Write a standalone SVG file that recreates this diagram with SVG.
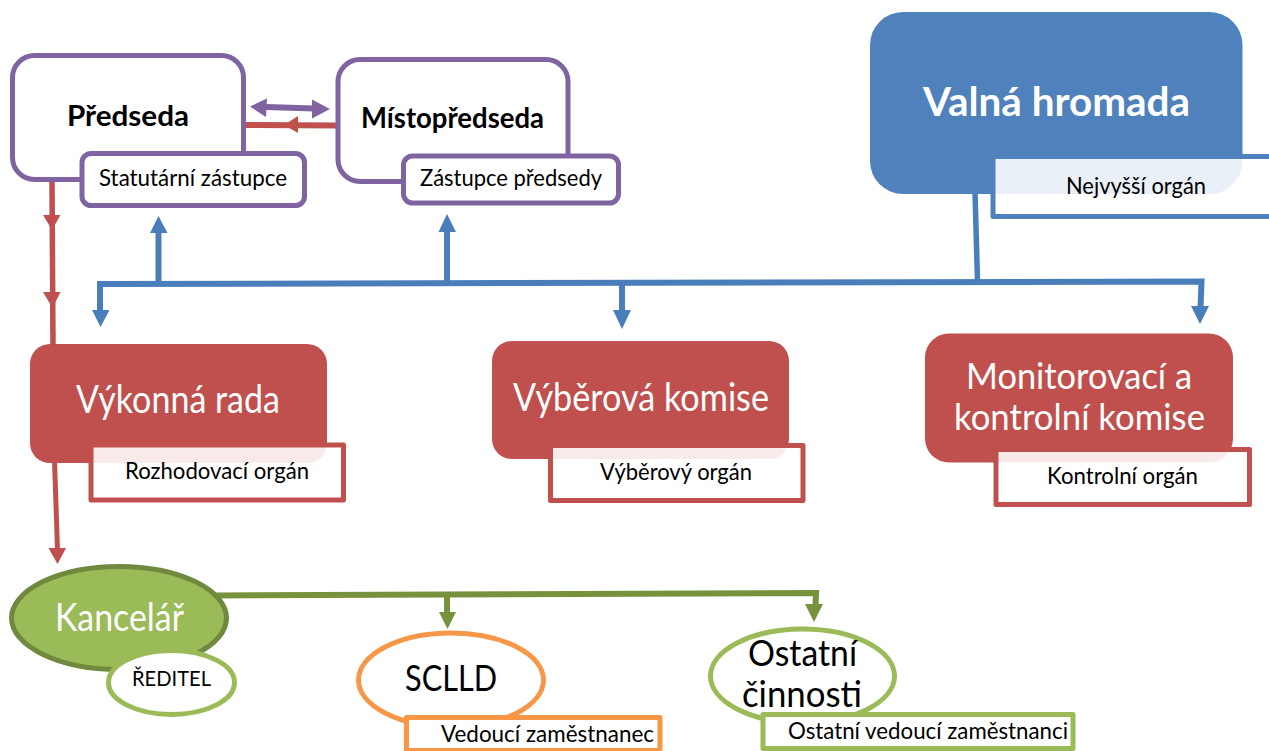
<svg xmlns="http://www.w3.org/2000/svg" width="1269" height="751" viewBox="0 0 1269 751">
<style>
text{font-family:"Lato","Carlito","Liberation Sans",sans-serif;fill:#000;text-anchor:start}
.w{fill:#fff}
.b{font-weight:700}
.pur{fill:#fff;stroke:#8064A2;stroke-width:5}
.redbox{fill:#C0504D}
.redsub{fill:#fff;fill-opacity:.88;stroke:#C0504D;stroke-width:5;stroke-linejoin:round}
.bluesub{fill:#fff;fill-opacity:.88;stroke:#4F81BD;stroke-width:5;stroke-linejoin:round}
.line{fill:none;stroke-linejoin:miter}
.lr{stroke:#C0504D}
.lb{stroke:#4A7EBB}
.lg{stroke:#76923C}
.lp{stroke:#8064A2}
.hr{fill:#C0504D}.hb{fill:#4A7EBB}.hg{fill:#76923C}.hp{fill:#8064A2}
</style>
<rect width="1269" height="751" fill="#fff"/>
<g id="connectors">
<path class="line lp" stroke-width="6" d="M258 106.800L322 108.800"/>
<polygon class="hp" points="250,106.500 267,98.500 266,117"/>
<polygon class="hp" points="330,109 312,99.500 312,118.500"/>
<path class="line lr" stroke-width="6" d="M245 125L337 125.500"/>
<polygon class="hr" points="284,125 298,116 298,133"/>
<path class="line lr" stroke-width="5.500" d="M52 180L53 346"/>
<polygon class="hr" points="43,215 60.500,215 52,230"/>
<polygon class="hr" points="43,292 60.500,292 52.500,308"/>
<path class="line lr" stroke-width="5" d="M54.500 460L57.500 550"/>
<polygon class="hr" points="48.500,548 66,548 57.500,564"/>
<path class="line lb" stroke-width="6" d="M100 312L100 284L1201.500 281.500L1200.500 308"/>
<path class="line lb" stroke-width="5.500" d="M975 192L977.500 281"/>
<path class="line lb" stroke-width="6" d="M158.500 284L158.500 230"/>
<path class="line lb" stroke-width="6" d="M447 284L447 230"/>
<path class="line lb" stroke-width="6" d="M622 283L622 312"/>
<polygon class="hb" points="92,310 109.500,310 100.500,327"/>
<polygon class="hb" points="150,233 167.500,233 158.500,216"/>
<polygon class="hb" points="438.500,232 456,232 447,214"/>
<polygon class="hb" points="613,310 631,310 622,329"/>
<polygon class="hb" points="1191,306 1209,306 1200,324"/>
<path class="line lg" stroke-width="6" d="M216 595.500L816 593L815.500 606"/>
<path class="line lg" stroke-width="6" d="M447 595L447 614"/>
<polygon class="hg" points="439,612 456,612 447.500,629"/>
<polygon class="hg" points="805,604 823,604 814,622"/>
</g>
<g id="predseda">
<rect class="pur" x="12.500" y="55.500" width="231" height="124" rx="22"/>
<text class="b" x="67" y="126" font-size="29" textLength="122" lengthAdjust="spacingAndGlyphs">Předseda</text>
</g>
<g id="statutarni">
<rect class="pur" x="82" y="153.500" width="222.500" height="52" rx="9"/>
<text x="99" y="186" font-size="23" textLength="188" lengthAdjust="spacingAndGlyphs">Statutární zástupce</text>
</g>
<g id="mistopredseda">
<rect class="pur" x="338" y="59.500" width="230" height="122" rx="22"/>
<text class="b" x="361" y="128" font-size="29" textLength="183" lengthAdjust="spacingAndGlyphs">Místopředseda</text>
</g>
<g id="zastupce">
<rect class="pur" x="403.500" y="156" width="215" height="47" rx="9"/>
<text x="420" y="186" font-size="23" textLength="182" lengthAdjust="spacingAndGlyphs">Zástupce předsedy</text>
</g>
<g id="valna-hromada">
<rect x="870" y="12" width="372.500" height="182" rx="33" fill="#4F81BD"/>
<text class="w b" x="923" y="116" font-size="40" textLength="267" lengthAdjust="spacingAndGlyphs">Valná hromada</text>
</g>
<g id="nejvyssi">
<rect class="bluesub" x="993" y="156.500" width="300" height="60"/>
<text x="1066" y="194" font-size="23" textLength="140" lengthAdjust="spacingAndGlyphs">Nejvyšší orgán</text>
</g>
<g id="vykonna-rada">
<rect class="redbox" x="30" y="344" width="297" height="119" rx="20"/>
<text class="w" x="76" y="413" font-size="39" textLength="204" lengthAdjust="spacingAndGlyphs">Výkonná rada</text>
</g>
<g id="rozhodovaci">
<rect class="redsub" x="91" y="445" width="252.500" height="55"/>
<text x="125" y="479" font-size="23" textLength="184" lengthAdjust="spacingAndGlyphs">Rozhodovací orgán</text>
</g>
<g id="vyberova-komise">
<rect class="redbox" x="492" y="341" width="297" height="118" rx="20"/>
<text class="w" x="513" y="411" font-size="39" textLength="256" lengthAdjust="spacingAndGlyphs">Výběrová komise</text>
</g>
<g id="vyberovy">
<rect class="redsub" x="550.500" y="445.500" width="252.500" height="55"/>
<text x="600" y="480" font-size="23" textLength="152" lengthAdjust="spacingAndGlyphs">Výběrový orgán</text>
</g>
<g id="monitorovaci">
<rect class="redbox" x="925" y="333.500" width="308" height="129" rx="24"/>
<text class="w" x="966" y="388.500" font-size="37" textLength="226" lengthAdjust="spacingAndGlyphs">Monitorovací a</text>
<text class="w" x="954" y="430" font-size="37" textLength="251" lengthAdjust="spacingAndGlyphs">kontrolní komise</text>
</g>
<g id="kontrolni">
<rect class="redsub" x="996" y="449.500" width="253.500" height="55"/>
<text x="1047" y="484" font-size="23" textLength="151" lengthAdjust="spacingAndGlyphs">Kontrolní orgán</text>
</g>
<g id="kancelar">
<ellipse cx="119" cy="618" rx="107.500" ry="51.500" fill="#9BBB59" stroke="#71893F" stroke-width="5"/>
<text class="w" x="55" y="631" font-size="39" textLength="129" lengthAdjust="spacingAndGlyphs">Kancelář</text>
</g>
<g id="reditel">
<ellipse cx="171.500" cy="682.500" rx="63" ry="32" fill="#fff" stroke="#9BBB59" stroke-width="5"/>
<text x="132" y="686" font-size="21" textLength="79" lengthAdjust="spacingAndGlyphs">ŘEDITEL</text>
</g>
<g id="sclld">
<ellipse cx="451" cy="680" rx="92.500" ry="47" fill="#fff" stroke="#F79646" stroke-width="5"/>
<text x="405" y="691" font-size="36" textLength="92" lengthAdjust="spacingAndGlyphs">SCLLD</text>
</g>
<g id="vedouci">
<rect x="406.500" y="717.500" width="253.500" height="33" fill="#fff" stroke="#F79646" stroke-width="5" stroke-linejoin="round"/>
<text x="441" y="742" font-size="23" textLength="213" lengthAdjust="spacingAndGlyphs">Vedoucí zaměstnanec</text>
</g>
<g id="ostatni">
<ellipse cx="802.500" cy="676" rx="92" ry="47" fill="#fff" stroke="#9BBB59" stroke-width="5"/>
<text x="748" y="665.500" font-size="37" textLength="109" lengthAdjust="spacingAndGlyphs">Ostatní</text>
<text x="742" y="707" font-size="37" textLength="120" lengthAdjust="spacingAndGlyphs">činnosti</text>
</g>
<g id="ostatni-vedouci">
<rect x="763" y="714.500" width="310" height="34" fill="#fff" stroke="#9BBB59" stroke-width="5" stroke-linejoin="round"/>
<text x="788" y="739" font-size="23" textLength="280" lengthAdjust="spacingAndGlyphs">Ostatní vedoucí zaměstnanci</text>
</g>
</svg>
